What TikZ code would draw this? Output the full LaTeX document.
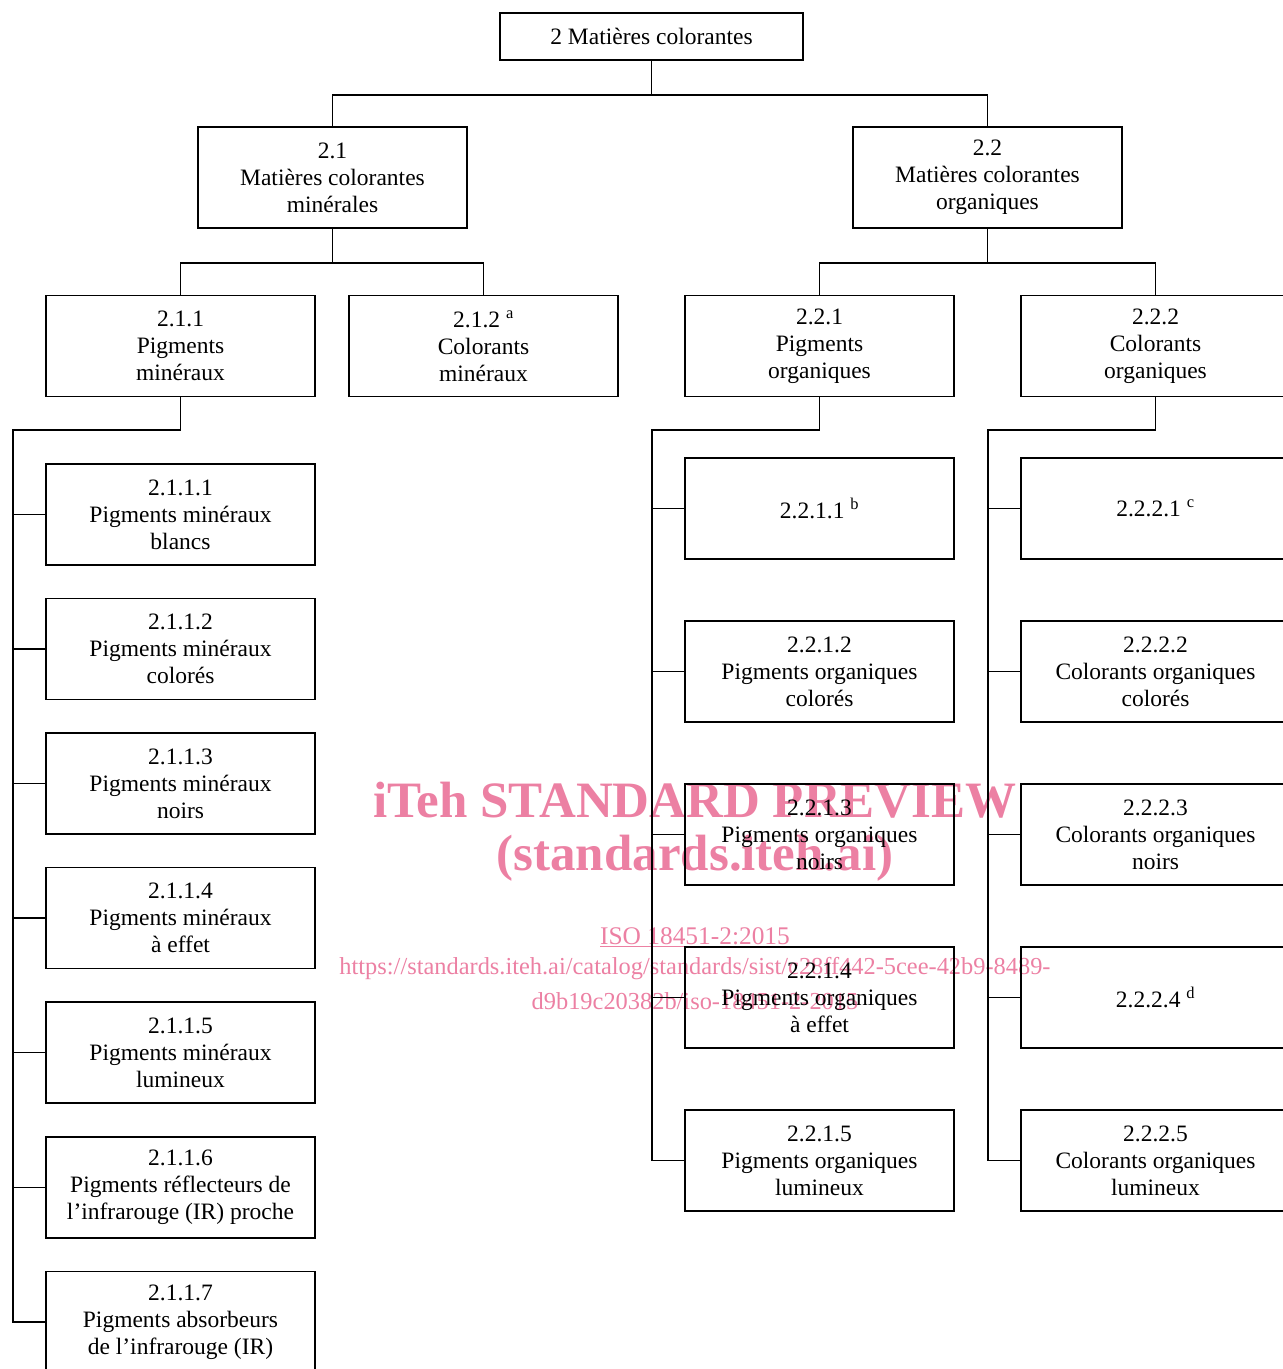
\documentclass[tikz,border=0pt]{standalone}
\usepackage{fontspec}
\setmainfont{Liberation Serif}
\definecolor{wm}{RGB}{236,128,163}
\begin{document}
\begin{tikzpicture}[x=1pt,y=-1pt,
  box/.style={draw,line width=1.6pt,minimum width=269pt,minimum height=101pt,inner sep=0pt,align=center,font=\fontsize{23.5}{27}\selectfont},
  conn/.style={line width=1.6pt},
  wmtext/.style={text=wm,font=\bfseries\fontsize{51}{60}\selectfont,inner sep=0pt},
  wmsmall/.style={text=wm,font=\fontsize{25.4}{32}\selectfont,inner sep=0pt}]
\clip (0,0) rectangle (1283,1369);
% watermark
\node[wmtext] (w1) at (695,800) {iTeh STANDARD PREVIEW};
\node[wmtext] (w2) at (695,858) {(standards.iteh.ai)};
\node[wmsmall] (w3) at (695,937) {\underline{ISO 18451-2:2015}};
\node[wmsmall,font=\fontsize{24.4}{32}\selectfont] (w4) at (695,969) {https://standards.iteh.ai/catalog/standards/sist/c28ff442-5cee-42b9-8489-};
\node[wmsmall,font=\fontsize{24.4}{32}\selectfont] (w5) at (695,1001) {d9b19c20382b/iso-18451-2-2015};
% boxes
\node[box,minimum width=303pt,minimum height=47pt] (top) at (651.5,36.5) {2 Matières colorantes};
\node[box] (a) at (332.5,177.5) {2.1\\Matières colorantes\\minérales};
\node[box] (b) at (987.5,177.5) {2.2\\Matières colorantes\\organiques};
\node[box] (a1) at (180.5,346) {2.1.1\\Pigments\\minéraux};
\node[box] (a2) at (483.5,346) {2.1.2 \textsuperscript{a}\\Colorants\\minéraux};
\node[box] (b1) at (819.5,346) {2.2.1\\Pigments\\organiques};
\node[box] (b2) at (1155.5,346) {2.2.2\\Colorants\\organiques};
% 2.1.1 children
\node[box] (a11) at (180.5,514.5) {2.1.1.1\\Pigments minéraux\\blancs};
\node[box] (a12) at (180.5,649) {2.1.1.2\\Pigments minéraux\\colorés};
\node[box] (a13) at (180.5,783.5) {2.1.1.3\\Pigments minéraux\\noirs};
\node[box] (a14) at (180.5,918) {2.1.1.4\\Pigments minéraux\\à effet};
\node[box] (a15) at (180.5,1052.5) {2.1.1.5\\Pigments minéraux\\lumineux};
\node[box] (a16) at (180.5,1187.5) {2.1.1.6\\Pigments réflecteurs de\\l’infrarouge (IR) proche};
\node[box] (a17) at (180.5,1322) {2.1.1.7\\Pigments absorbeurs\\de l’infrarouge (IR)};
% 2.2.1 children
\node[box] (b11) at (819.5,508.5) {2.2.1.1 \textsuperscript{b}};
\node[box] (b12) at (819.5,671.5) {2.2.1.2\\Pigments organiques\\colorés};
\node[box] (b13) at (819.5,834.5) {2.2.1.3\\Pigments organiques\\noirs};
\node[box] (b14) at (819.5,997.5) {2.2.1.4\\Pigments organiques\\à effet};
\node[box] (b15) at (819.5,1160.5) {2.2.1.5\\Pigments organiques\\lumineux};
% 2.2.2 children
\node[box] (b21) at (1155.5,508.5) {2.2.2.1 \textsuperscript{c}};
\node[box] (b22) at (1155.5,671.5) {2.2.2.2\\Colorants organiques\\colorés};
\node[box] (b23) at (1155.5,834.5) {2.2.2.3\\Colorants organiques\\noirs};
\node[box] (b24) at (1155.5,997.5) {2.2.2.4 \textsuperscript{d}};
\node[box] (b25) at (1155.5,1160.5) {2.2.2.5\\Colorants organiques\\lumineux};
% connectors
\draw[conn] (top.south) -- ++(0,34) -| (a.north);
\draw[conn] (top.south) -- ++(0,34) -| (b.north);
\draw[conn] (a.south) -- ++(0,34) -| (a1.north);
\draw[conn] (a.south) -- ++(0,34) -| (a2.north);
\draw[conn] (b.south) -- ++(0,34) -| (b1.north);
\draw[conn] (b.south) -- ++(0,34) -| (b2.north);
\coordinate (sa) at (13,430);
\coordinate (sb) at (652,430);
\coordinate (sc) at (988,430);
\draw[conn] (a1.south) |- (sa) |- (a17.west);
\draw[conn] (b1.south) |- (sb) |- (b15.west);
\draw[conn] (b2.south) |- (sc) |- (b25.west);
\foreach \n in {a11,a12,a13,a14,a15,a16} \draw[conn] (\n.west) -- (\n.west -| sa);
\foreach \n in {b11,b12,b13,b14} \draw[conn] (\n.west) -- (\n.west -| sb);
\foreach \n in {b21,b22,b23,b24} \draw[conn] (\n.west) -- (\n.west -| sc);
\end{tikzpicture}
\end{document}
